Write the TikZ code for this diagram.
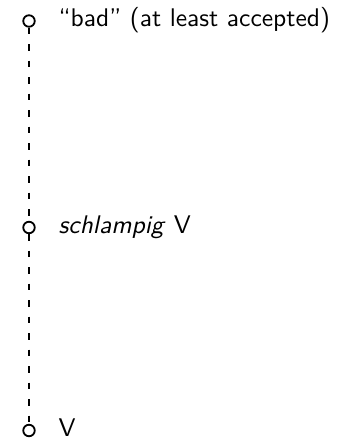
\documentclass[tikz,border=0pt]{standalone}
\usepackage{fontspec}
\setmainfont{lmsans10-regular}[Extension=.otf, ItalicFont=lmsans10-oblique, BoldFont=lmsans10-bold]
\begin{document}
\begin{tikzpicture}[x=1pt,y=-1pt,
  pt/.style={circle,draw,line width=1.8pt,inner sep=0pt,minimum size=11.5pt,fill=white},
  lbl/.style={anchor=base west,inner sep=0pt,font=\fontsize{25.5}{30}\selectfont},
  conn/.style={line width=1.8pt,dash pattern=on 6.5pt off 10pt}]
\useasboundingbox (0,0) rectangle (343,443);
\node[pt] (a) at (29,21) {};
\node[pt] (b) at (29,227.5) {};
\node[pt] (c) at (29,430.5) {};
\draw[conn] (a.south) -- (b.north);
\draw[conn] (b.south) -- (c.north);
\node[lbl] (ta) at (58.5,27) {``bad'' (at least accepted)};
\node[lbl] (tb) at (58.5,233.5) {\textit{schlampig} V};
\node[lbl] (tc) at (58.5,436.5) {V};
\end{tikzpicture}
\end{document}
